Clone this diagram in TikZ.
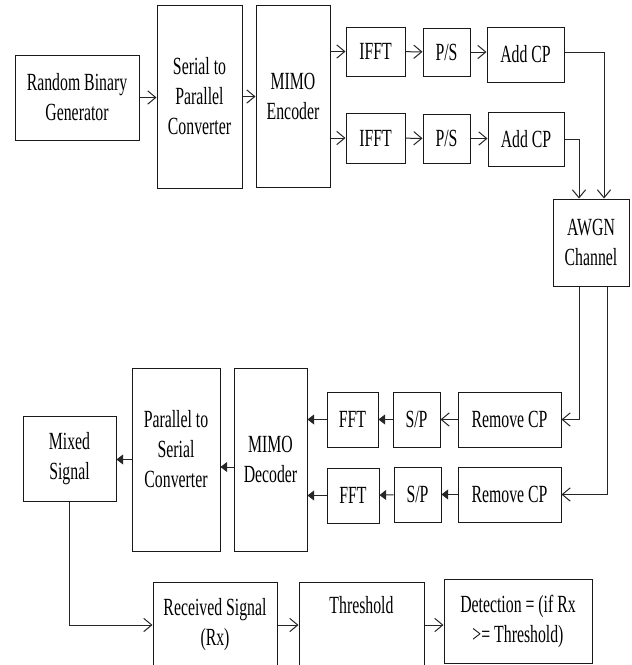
\documentclass[tikz,border=0pt]{standalone}
\usepackage{fontspec}
\setmainfont{Liberation Serif}[FakeStretch=0.64]
\usetikzlibrary{arrows.meta,calc}

\tikzset{every picture/.style={line width=0.75pt}}
\tikzset{
  blk/.style={draw=black!90, inner sep=0.75pt, align=center, font=\fontsize{18.5}{22.5}\selectfont},
  opn/.style={draw=black!85, -{Straight Barb[length=6pt,width=10pt]}},
  fll/.style={draw=black!85, -{Triangle[length=5pt,width=7.5pt]}},
}

\begin{document}
\begin{tikzpicture}[x=0.75pt,y=0.75pt,yscale=-1,xscale=1]
\clip (0,0) rectangle (632,665);

%Shape: Rectangle [transmitter chain]
\node[blk, minimum width=93pt, minimum height=63.75pt] (rbg) at (77,97.5) {Random Binary\\Generator};
\node[blk, minimum width=63.75pt, minimum height=137.25pt] (s2p) at (199.5,96.5) {Serial to\\Parallel\\Converter};
\node[blk, minimum width=55.5pt, minimum height=136.5pt] (menc) at (293,96) {MIMO\\Encoder};
\node[blk, minimum width=44.25pt, minimum height=36.75pt] (ifftA) at (375.5,51.5) {IFFT};
\node[blk, minimum width=35.25pt, minimum height=36pt] (psA) at (446.5,52) {P/S};
\node[blk, minimum width=57.75pt, minimum height=41.25pt] (acpA) at (525.5,54.5) {Add CP};
\node[blk, minimum width=44.25pt, minimum height=37.5pt] (ifftB) at (375.5,138) {IFFT};
\node[blk, minimum width=35.25pt, minimum height=36.75pt] (psB) at (446.5,138.5) {P/S};
\node[blk, minimum width=57pt, minimum height=40.5pt] (acpB) at (526,139) {Add CP};
%Shape: Rectangle [channel]
\node[blk, minimum width=57pt, minimum height=65.25pt] (awgn) at (591,242.5) {AWGN\\Channel};
%Shape: Rectangle [receiver chain]
\node[blk, minimum width=77.25pt, minimum height=41.25pt] (rcpA) at (509.5,419.5) {Remove CP};
\node[blk, minimum width=35.25pt, minimum height=41.25pt] (spA) at (416.5,419.5) {S/P};
\node[blk, minimum width=38.25pt, minimum height=41.25pt] (fftA) at (352.5,419.5) {FFT};
\node[blk, minimum width=77.25pt, minimum height=41.25pt] (rcpB) at (509.5,494.5) {Remove CP};
\node[blk, minimum width=35.25pt, minimum height=41.25pt] (spB) at (417.5,494.5) {S/P};
\node[blk, minimum width=39pt, minimum height=41.25pt] (fftB) at (353,495.5) {FFT};
\node[blk, minimum width=54.75pt, minimum height=137.25pt] (mdec) at (270.5,459.5) {MIMO\\Decoder};
\node[blk, minimum width=66pt, minimum height=137.25pt] (p2s) at (176,459.5) {Parallel to\\Serial\\Converter\\[-6pt]};
\node[blk, minimum width=69.75pt, minimum height=63.75pt] (mix) at (69.5,458.5) {Mixed\\Signal};
%Shape: Rectangle [detection]
\node[blk, minimum width=93pt, minimum height=64.5pt] (rx) at (215,625) {Received Signal\\(Rx)};
\node[blk, minimum width=93.75pt, minimum height=64.5pt, label={[blk, draw=none, anchor=north, yshift=-10pt]north:Threshold}] (thr) at (361.5,625) {};
\node[blk, minimum width=111pt, minimum height=63pt] (det) at (518,621) {Detection = (if Rx\\>= Threshold)};

%Straight Lines [transmitter]
\draw[opn] (rbg.east) -- (rbg.east -| s2p.west);
\draw[opn] (s2p.east) -- (s2p.east -| menc.west);
\draw[opn] (menc.east |- ifftA) -- (ifftA);
\draw[opn] (menc.east |- ifftB) -- (ifftB);
\draw[opn] (ifftA) -- (psA);
\draw[opn] (psA) -- (psA -| acpA.west);
\draw[opn] (ifftB) -- (psB);
\draw[opn] (psB) -- (psB -| acpB.west);
%Straight Lines [through the channel]
\draw[opn] (acpA.east |- psA) -| ($(awgn.north)+(13,0)$);
\draw[opn] (acpB.east) -| ($(awgn.north)+(-12,0)$);
\draw[opn] ($(awgn.south)+(-12,0)$) |- (rcpA.east);
\draw[opn] ($(awgn.south)+(16,0)$) |- (rcpB.east);
%Straight Lines [receiver]
\draw[opn] (rcpA) -- (spA);
\draw[fll] (rcpB) -- (spB);
\draw[fll] (spA) -- (fftA);
\draw[fll] (spB) -- (fftB);
\draw[fll] (fftA) -- (fftA -| mdec.east);
\draw[fll] (fftB) -- (fftB -| mdec.east);
\coordinate (dm) at ($(mdec.west)+(0,7.5)$);
\draw[fll] (dm) -- (dm -| p2s.east);
\draw[fll] (p2s.west) -- (p2s.west -| mix.east);
%Straight Lines [detection]
\draw[opn] (mix.south) |- (rx.west);
\draw[opn] (rx) -- (thr);
\draw[opn] (thr.east) -- (thr.east -| det.west);
\end{tikzpicture}
\end{document}
